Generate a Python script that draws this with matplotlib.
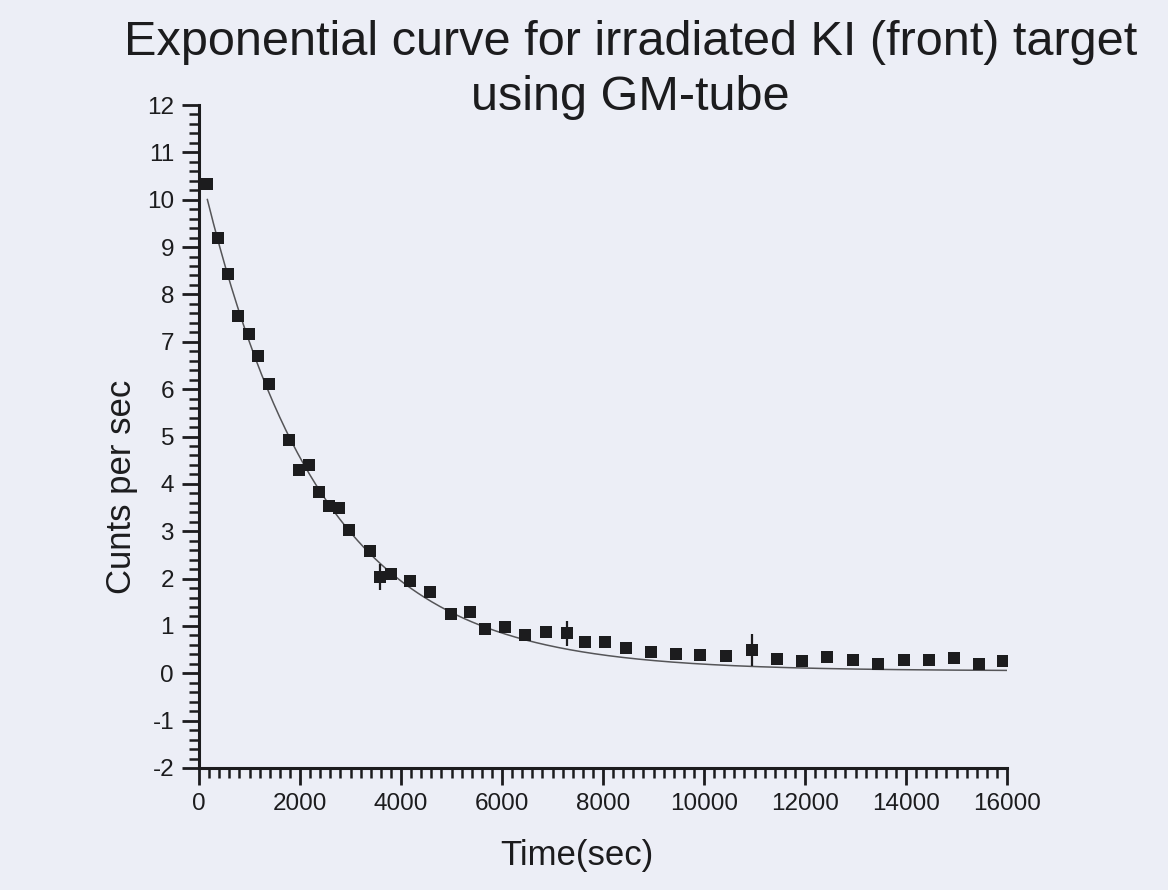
import matplotlib.pyplot as plt
import numpy as np

plt.rcParams['font.family'] = ['Liberation Sans', 'DejaVu Sans']
plt.rcParams['axes.unicode_minus'] = False

# measured points (time in sec, counts per sec)
time_sec = [165, 376, 574, 779, 983, 1175, 1380,
            1776, 1974, 2178, 2383, 2580, 2778, 2977, 3386, 3584, 3795,
            4178, 4581, 4983, 5370, 5663, 6059, 6462, 6865, 7281, 7650,
            8046, 8449, 8950, 9443, 9915, 10442, 10944, 11446, 11947,
            12442, 12945, 13452, 13954, 14449, 14950, 15451, 15914]
counts = [10.33, 9.19, 8.44, 7.54, 7.17, 6.69, 6.10,
          4.93, 4.30, 4.39, 3.82, 3.53, 3.48, 3.03, 2.58, 2.03, 2.09,
          1.94, 1.71, 1.25, 1.30, 0.94, 0.97, 0.81, 0.87, 0.84, 0.65,
          0.67, 0.54, 0.45, 0.40, 0.38, 0.36, 0.49, 0.30, 0.25,
          0.34, 0.29, 0.19, 0.27, 0.29, 0.33, 0.19, 0.25]

# the three points drawn with error bars
err_time = [3584, 7281, 10944]
err_counts = [2.03, 0.84, 0.49]
err_size = [0.28, 0.27, 0.33]

# exponential fit y = y0 + A*exp(-t/tau)
fit_y0 = 0.05
fit_A = 10.69
fit_tau = 2314.0
fit_start = 165
fit_end = 16000

bg = '#eceef6'
ink = '#1c1c1e'

fig = plt.figure(figsize=(11.68, 8.9), dpi=100, facecolor=bg)
ax = fig.add_axes([0.1704, 0.1371, 0.6918, 0.7449])
ax.set_facecolor(bg)

t_fit = np.linspace(fit_start, fit_end, 400)
ax.plot(t_fit, fit_y0 + fit_A * np.exp(-t_fit / fit_tau), color='#555558', lw=1.1, zorder=2)

ax.errorbar(err_time, err_counts, yerr=err_size, fmt='none', ecolor=ink, elinewidth=1.6, capsize=0, zorder=3)
ax.plot(time_sec, counts, 's', color=ink, markersize=8.6, markeredgewidth=0, zorder=4)

ax.set_xlim(0, 16000)
ax.set_ylim(-2, 12)
ax.set_xticks(np.arange(0, 16001, 2000))
ax.set_xticks(np.arange(0, 16001, 200), minor=True)
ax.set_yticks(np.arange(-2, 13, 1))
ax.set_yticks(np.arange(-2, 12.01, 0.2), minor=True)

for s in ['top', 'right']:
    ax.spines[s].set_visible(False)
for s in ['left', 'bottom']:
    ax.spines[s].set_linewidth(2.2)
    ax.spines[s].set_color(ink)

ax.tick_params(which='major', length=12, width=2, color=ink, labelsize=17.5, labelcolor=ink, pad=6)
ax.tick_params(which='minor', length=7, width=1.8, color=ink)

fig.text(0.54, 0.938, 'Exponential curve for irradiated KI (front) target',
         ha='center', va='baseline', fontsize=35, color=ink)
fig.text(0.54, 0.876, 'using GM-tube', ha='center', va='baseline', fontsize=35, color=ink)

fig.text(0.494, 0.039, 'Time(sec)', ha='center', va='center', fontsize=25, color=ink)
fig.text(0.104, 0.453, 'Cunts per sec', ha='center', va='center', rotation=90, fontsize=25, color=ink)

plt.savefig('out.png', dpi=100, facecolor=bg)
